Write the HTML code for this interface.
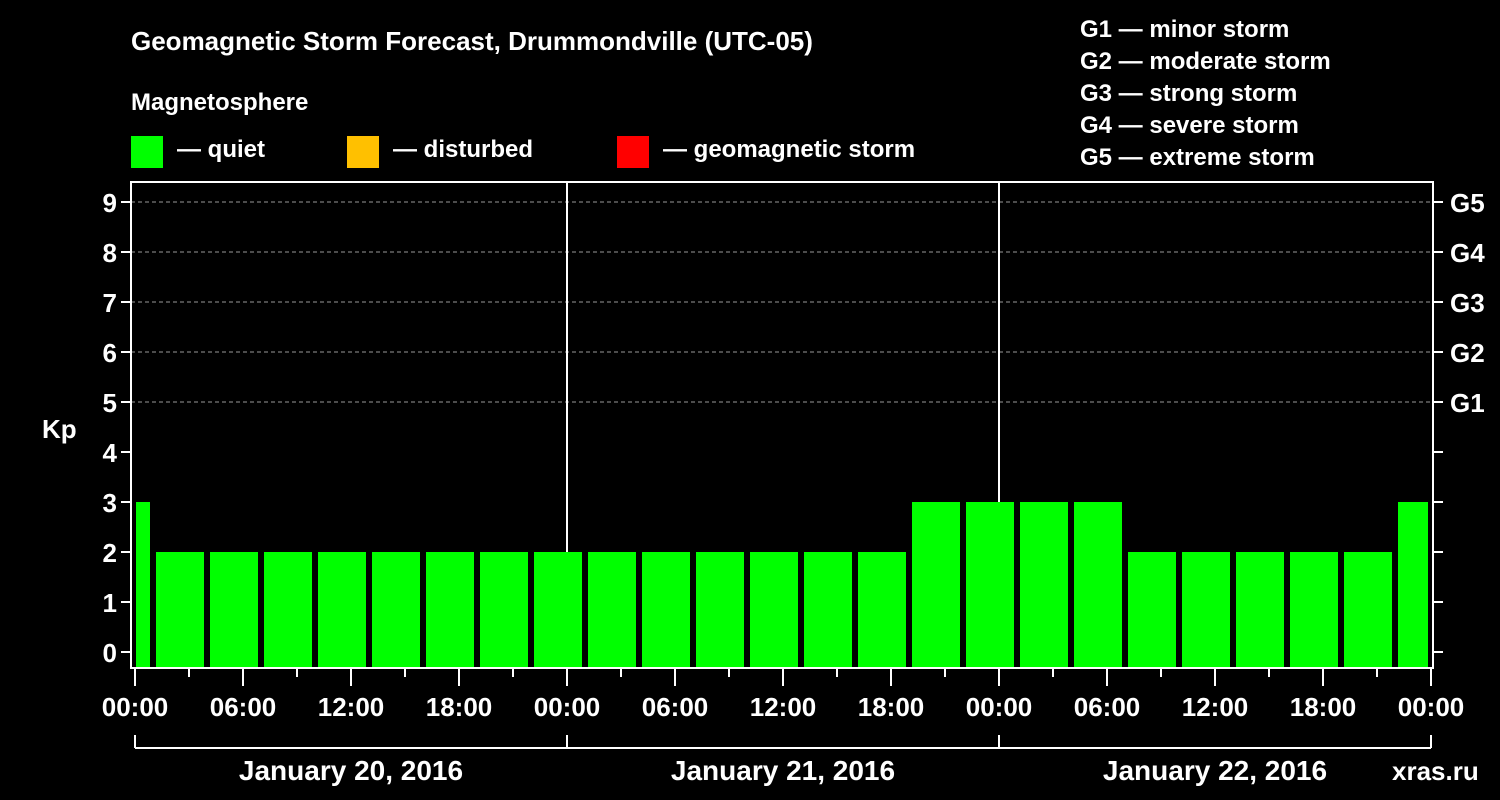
<!DOCTYPE html>
<html><head><meta charset="utf-8"><style>
html,body{margin:0;padding:0;background:#000;width:1500px;height:800px;overflow:hidden}
svg{display:block;font-family:"Liberation Sans",Arial,sans-serif;font-weight:bold}
</style></head><body>
<svg id="c" width="1500" height="800" viewBox="0 0 1500 800">
<text x="131" y="50" fill="#fff" font-size="26">Geomagnetic Storm Forecast, Drummondville (UTC-05)</text>
<text x="131" y="110" fill="#fff" font-size="24">Magnetosphere</text>
<g><rect x="131" y="136" width="32" height="32" fill="#00ff00"/><text x="177" y="157" fill="#fff" font-size="24">— quiet</text></g>
<g><rect x="347" y="136" width="32" height="32" fill="#ffc000"/><text x="393" y="157" fill="#fff" font-size="24">— disturbed</text></g>
<g><rect x="617" y="136" width="32" height="32" fill="#ff0000"/><text x="663" y="157" fill="#fff" font-size="24">— geomagnetic storm</text></g>
<g fill="#fff" font-size="24">
<text x="1080" y="37">G1 — minor storm</text>
<text x="1080" y="69">G2 — moderate storm</text>
<text x="1080" y="101">G3 — strong storm</text>
<text x="1080" y="133">G4 — severe storm</text>
<text x="1080" y="165">G5 — extreme storm</text>
</g>
<g id="grid"></g>
<g id="bars"></g>
<g id="axes"></g>
<text x="42" y="438" fill="#fff" font-size="26">Kp</text>
<text x="1392" y="780" fill="#fff" font-size="26">xras.ru</text>
</svg>
<script>
const kpValues=[3,2,2,2,2,2,2,2,2,2,2,2,2,2,2,3,3,3,3,2,2,2,2,2,3];
const yTicks=[0,1,2,3,4,5,6,7,8,9];
const gLabels=["G1","G2","G3","G4","G5"];
const timeLabels=["00:00","06:00","12:00","18:00"];
const dayLabels=["January 20, 2016","January 21, 2016","January 22, 2016"];
const L=131,R=1433,T=182,B=668,X0=135,HOUR=18;
const y=v=>652-50*v;
const x=h=>X0+h*HOUR;
const NS="http://www.w3.org/2000/svg";
function mk(tag,attrs,parent,text){const e=document.createElementNS(NS,tag);for(const k in attrs)e.setAttribute(k,attrs[k]);if(text!==undefined)e.textContent=text;parent.appendChild(e);return e;}
const grid=document.getElementById('grid'),bars=document.getElementById('bars'),axes=document.getElementById('axes');
// gridlines G1-G5
gLabels.forEach((g,i)=>{const v=5+i;
 const ln=mk('line',{x1:L,x2:R,y1:y(v),y2:y(v),stroke:'#999','stroke-dasharray':'4,3','stroke-width':1},grid);
 
 
 const t=mk('text',{x:1450,y:y(v)+10,fill:'#fff','font-size':26},axes,g);
 
 
});
// day separators
[1,2].forEach(d=>{const l=mk('line',{x1:x(24*d),x2:x(24*d),y1:T,y2:B,stroke:'#fff','stroke-width':2},grid);
 
 });
// bars: first starts at -2h (clipped), then every 3h
kpValues.forEach((v,i)=>{
 let h0=-2+3*(i), h1=h0+3;
 let xa=x(h0)+3, xb=x(h1)-3;
 if(xa<X0+1)xa=X0+1; if(xb>x(72)-3)xb=x(72)-3;
 const r=mk('rect',{x:xa,y:y(v),width:xb-xa,height:B-1-y(v),fill:'#00ff00'},bars);
 
 
});
// frame
const fr=mk('rect',{x:L,y:T,width:R-L,height:B-T,fill:'none',stroke:'#fff','stroke-width':2},axes);


// y ticks
yTicks.forEach(v=>{
 mk('line',{x1:L-10,x2:L,y1:y(v),y2:y(v),stroke:'#fff','stroke-width':2},axes);
 mk('line',{x1:R,x2:R+10,y1:y(v),y2:y(v),stroke:'#fff','stroke-width':2},axes);
 const t=mk('text',{x:L-14,y:y(v)+10,fill:'#fff','font-size':26,'text-anchor':'end'},axes,String(v));
 
 
});
// x ticks
for(let h=0;h<=72;h+=3){const major=h%6===0;
 mk('line',{x1:x(h),x2:x(h),y1:B,y2:major?B+18:B+9,stroke:'#fff','stroke-width':2},axes);
 if(major){const lbl=timeLabels[(h/6)%4];
  const t=mk('text',{x:x(h),y:716,fill:'#fff','font-size':26,'text-anchor':'middle'},axes,lbl);
  
  }
}
// day bracket
mk('line',{x1:x(0),x2:x(72),y1:748,y2:748,stroke:'#fff','stroke-width':2},axes);
for(let d=0;d<=3;d++)mk('line',{x1:x(24*d),x2:x(24*d),y1:735,y2:748,stroke:'#fff','stroke-width':2},axes);
dayLabels.forEach((s,d)=>{const t=mk('text',{x:x(24*d+12),y:780,fill:'#fff','font-size':28,'text-anchor':'middle'},axes,s);
 
 });
</script>
</body></html>
